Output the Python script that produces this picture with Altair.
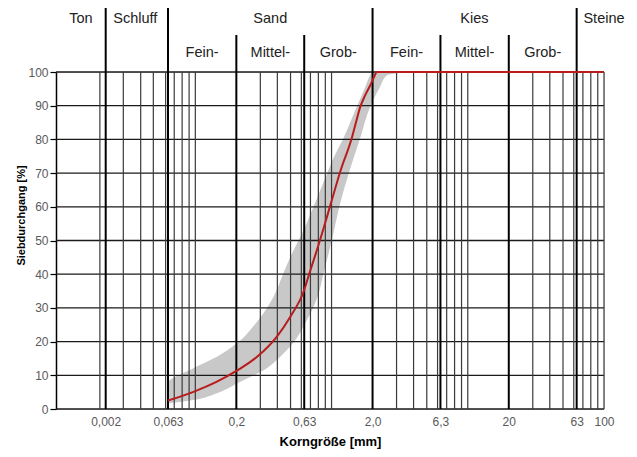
import altair as alt
import pandas as pd

# --- Sieblinie (red curve): grain size [mm] and passing [%]
curve_d = [0.063, 0.097, 0.144, 0.2, 0.284, 0.397, 0.498, 0.623, 0.697, 0.80, 0.88, 0.98, 1.17, 1.41, 1.51, 1.62, 1.76, 1.92, 2.05, 2.15, 100]
curve_p = [2.5, 5.1, 8.1, 11.3, 15.5, 21.5, 27.4, 34.8, 41.0, 48.5, 54.0, 60.5, 71.0, 80.5, 85.0, 89.5, 93.0, 96.0, 98.5, 100, 100]

# --- grey envelope (Sieblinienbereich): passing [%], fine edge [mm], coarse edge [mm]
band_p = [1.7, 2.7, 4.7, 7.6, 12.1, 15.5, 19.5, 25.9, 33.3, 40.5, 46.0, 52.0, 60.0, 70.0, 74.0, 80.3, 89.7, 95.6, 99.0, 100]
band_fine = [0.063, 0.063, 0.063, 0.063, 0.097, 0.144, 0.202, 0.284, 0.375, 0.445, 0.51, 0.606, 0.737, 0.93, 1.02, 1.22, 1.53, 1.77, 1.92, 1.98]
band_coarse = [0.063, 0.097, 0.144, 0.202, 0.335, 0.42, 0.52, 0.65, 0.79, 0.875, 0.95, 1.03, 1.14, 1.34, 1.44, 1.62, 1.92, 2.27, 2.55, 3.56]

# --- axis ticks
tick_values = [0.002, 0.063, 0.2, 0.63, 2.0, 6.3, 20, 63, 100]
tick_labels = ["0,002", "0,063", "0,2", "0,63", "2,0", "6,3", "20", "63", "100"]
y_values = [0, 10, 20, 30, 40, 50, 60, 70, 80, 90, 100]

# --- grid lines
main_bounds = [0.002, 0.063, 2.0, 63]
sub_bounds = [0.2, 0.63, 6.3, 20]
minor_lines = [0.0017, 0.0063, 0.02, 0.034, 0.057,
               0.07, 0.08, 0.09, 0.1,
               0.3, 0.4, 0.5, 0.6, 0.7, 0.8, 0.9, 1,
               3, 4, 5, 6, 7, 8, 9, 10,
               30, 40, 50, 60, 70, 80, 90, 100]

# --- header labels
zone_names = ["Ton", "Schluff", "Sand", "Kies", "Steine"]
zone_x = [0.001, 0.014, 0.355, 11.2, 100]
sub_names = ["Fein-", "Mittel-", "Grob-", "Fein-", "Mittel-", "Grob-"]
sub_x = [0.112, 0.355, 1.12, 3.55, 11.2, 35.5]

W, H = 548, 337
FONT = "Liberation Sans"

curve_df = pd.DataFrame({"d": curve_d, "p": curve_p})
band_df = pd.DataFrame({"d": band_fine, "d2": band_coarse, "p": band_p})
hgrid_df = pd.DataFrame({"p": y_values})
minor_df = pd.DataFrame({"d": minor_lines})
main_df = pd.DataFrame({"d": main_bounds})
sub_df = pd.DataFrame({"d": sub_bounds})
zone_df = pd.DataFrame({"d": zone_x, "t": zone_names})
subl_df = pd.DataFrame({"d": sub_x, "t": sub_names})

x_scale = alt.Scale(type="log", domain=[0.0005, 0.002, 0.0063, 0.02, 0.063, 100],
                    range=[0, 49.7, 67.3, 84.7, 112, W], nice=False)
y_scale = alt.Scale(domain=[0, 100], nice=False, zero=True)

label_expr = ""
for v, l in zip(tick_values, tick_labels):
    label_expr += f"datum.value == {v} ? '{l}' : "
label_expr += "''"

x_axis = alt.Axis(values=tick_values, labelExpr=label_expr, grid=False, ticks=False, domain=False,
                  labelFontSize=12, labelColor="#595959", labelPadding=7, labelOverlap=False,
                  labelFlush=False, labelFont=FONT,
                  title="Korngröße [mm]", titleFontSize=13, titleFontWeight="bold", titleColor="#000",
                  titleFont=FONT, titleY=36, titleBaseline="alphabetic")
y_axis = alt.Axis(values=y_values, tickCount=11, grid=False, domain=True, domainColor="#000", domainWidth=1.5,
                  ticks=True, tickColor="#000", tickSize=6, tickWidth=1.2,
                  labelFontSize=12, labelColor="#595959", labelPadding=2, labelFont=FONT,
                  labelOverlap=False, labelFlush=False, labelBound=False,
                  title="Siebdurchgang [%]", titleFontSize=11, titleFontWeight="bold", titleColor="#000",
                  titleFont=FONT, titleX=-30, titleY=143, titleAngle=-90, titleAlign="center",
                  titleBaseline="bottom")

X = lambda f="d": alt.X(f"{f}:Q", scale=x_scale, axis=x_axis, title="Korngröße [mm]")
Y = lambda f="p": alt.Y(f"{f}:Q", scale=y_scale, axis=y_axis, title="Siebdurchgang [%]")

band = alt.Chart(band_df).mark_area(orient="horizontal", color="#C8C8C8", interpolate="monotone").encode(
    y=Y(), x=X(), x2="d2:Q",
)

hgrid = alt.Chart(hgrid_df).mark_rule(color="#1a1a1a", strokeWidth=1.3).encode(y=Y())

vminor = alt.Chart(minor_df).mark_rule(color="#3a3a3a", strokeWidth=1.2).encode(x=X())

vmain = alt.Chart(main_df).mark_rule(color="#000", strokeWidth=2).encode(
    x=X(), y=alt.value(-64), y2=alt.value(H)
)
vsub = alt.Chart(sub_df).mark_rule(color="#000", strokeWidth=2).encode(
    x=X(), y=alt.value(-37), y2=alt.value(H)
)

curve = alt.Chart(curve_df).mark_line(color="#B81C1C", strokeWidth=2, interpolate="monotone").encode(
    x=X(), y=Y(), order="d:Q"
)

zones = alt.Chart(zone_df).mark_text(fontSize=14.5, font=FONT, color="#222", baseline="alphabetic",
                                     align="center").encode(
    x=X(), y=alt.value(-49), text="t:N"
)
subs = alt.Chart(subl_df).mark_text(fontSize=14.5, font=FONT, color="#222", baseline="alphabetic",
                                    align="center").encode(
    x=X(), y=alt.value(-15.5), text="t:N"
)

chart = alt.layer(band, hgrid, vminor, vmain, vsub, curve, zones, subs).properties(
    width=W, height=H,
    autosize=alt.AutoSizeParams(type="none"),
    padding={"left": 48, "top": 64, "right": 25, "bottom": 40},
).configure_view(stroke=None).configure(background="white")

chart.save("out.html", embed_options={"renderer": "svg", "actions": False})
